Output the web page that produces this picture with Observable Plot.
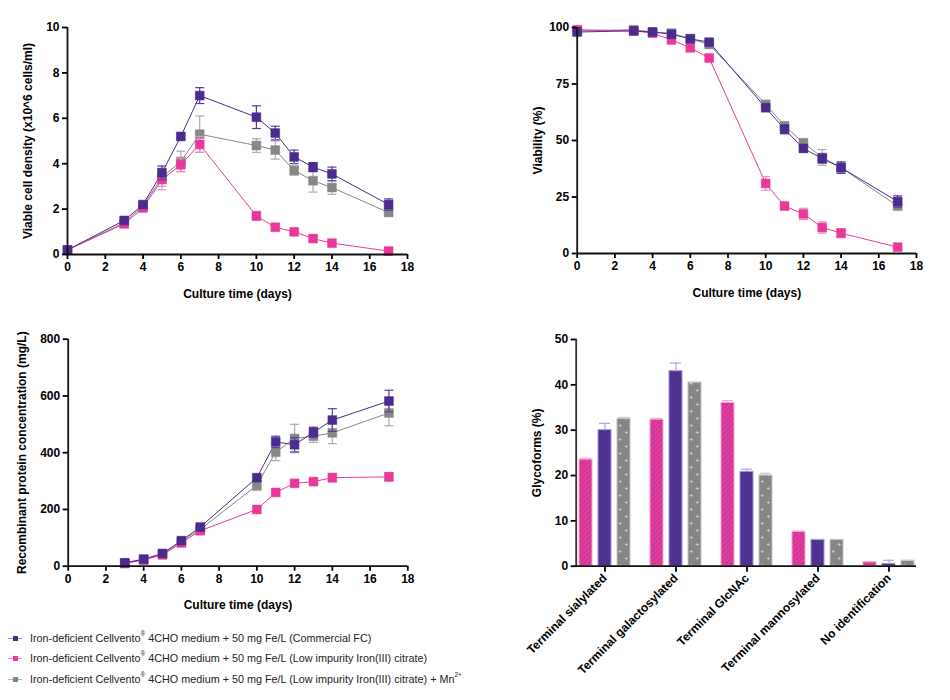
<!DOCTYPE html>
<html><head><meta charset="utf-8">
<script src="https://cdn.jsdelivr.net/npm/d3@7"></script>
<script src="https://cdn.jsdelivr.net/npm/@observablehq/plot@0.6"></script>
<style>
body{margin:0;background:#fff;font-family:"Liberation Sans",Arial,sans-serif;}
#wrap{position:relative;width:950px;height:700px;overflow:hidden;background:#fff}
#wrap svg{position:absolute;overflow:visible}
.row{position:absolute;left:0;white-space:nowrap;height:14px;line-height:14px;font-size:10.8px;color:#222}
.sw{position:absolute;left:8px;top:7px;width:14px;height:1px}
.sq{position:absolute;left:12.5px;top:4.5px;width:5px;height:5px}
.lt{position:absolute;left:30px;top:0}
sup{font-size:6.5px;vertical-align:top;line-height:8px;position:relative;top:-1px}
</style></head><body><div id="wrap"></div><script>
// ---------- data ----------
const seriesKeys = ["FC", "LI", "LIMn"];
const seriesLabels = [
  "Iron-deficient Cellvento® 4CHO medium + 50 mg Fe/L (Commercial FC)",
  "Iron-deficient Cellvento® 4CHO medium + 50 mg Fe/L (Low impurity Iron(III) citrate)",
  "Iron-deficient Cellvento® 4CHO medium + 50 mg Fe/L (Low impurity Iron(III) citrate) + Mn2+"
];
const seriesColors = {FC: "#4b2c8e", LI: "#e8399a", LIMn: "#878787"};
const errColors = {FC: "#5a40a0", LI: "#f08cc0", LIMn: "#ababab"};
const legendLineColors = {FC: "#9a8cc6", LI: "#f090c4", LIMn: "#b8b8b8"};

const days = [0, 3, 4, 5, 6, 7, 10, 11, 12, 13, 14, 17];
const vcdFC      = [0.2, 1.5, 2.2, 3.6, 5.2, 7.0, 6.05, 5.35, 4.3, 3.85, 3.55, 2.2];
const vcdFCErr   = [0.05, 0.1, 0.1, 0.3, 0.1, 0.35, 0.5, 0.3, 0.3, 0.2, 0.3, 0.25];
const vcdLI      = [0.2, 1.35, 2.05, 3.3, 3.95, 4.85, 1.7, 1.2, 1.0, 0.7, 0.5, 0.15];
const vcdLIErr   = [0.05, 0.08, 0.1, 0.45, 0.3, 0.35, 0.2, 0.1, 0.1, 0.15, 0.08, 0.1];
const vcdLIMn    = [0.2, 1.4, 2.15, 3.4, 4.1, 5.3, 4.8, 4.6, 3.7, 3.25, 2.95, 1.85];
const vcdLIMnErr = [0.05, 0.1, 0.1, 0.4, 0.45, 0.8, 0.3, 0.4, 0.2, 0.5, 0.3, 0.1];

const viabFC      = [98, 98.5, 98, 97, 95, 93.5, 64.5, 55, 46.5, 42, 38, 23];
const viabFCErr   = [0.5, 0.5, 0.5, 1, 1, 1, 1.5, 2, 1.5, 2, 2.5, 2.5];
const viabLI      = [99, 98.5, 97.5, 94.5, 91, 86.5, 31, 21, 17.5, 11.5, 9, 2.8];
const viabLIErr   = [0.5, 0.5, 0.5, 1, 1, 1, 3, 1.5, 2.5, 2.5, 2, 0.5];
const viabLIMn    = [98.5, 99, 98, 97.5, 95, 92.5, 66, 56.5, 49, 42.5, 38, 21];
const viabLIMnErr = [0.5, 0.5, 0.5, 1, 1, 1, 1.5, 1.5, 1.5, 3.5, 2.5, 1];

const protDays = [3, 4, 5, 6, 7, 10, 11, 12, 13, 14, 17];
const protFC      = [12, 25, 45, 90, 138, 312, 438, 428, 472, 515, 582];
const protFCErr   = [3, 3, 5, 5, 5, 10, 20, 25, 18, 40, 38];
const protLI      = [10, 22, 40, 82, 125, 200, 260, 292, 298, 312, 315];
const protLIErr   = [3, 3, 4, 5, 5, 8, 10, 8, 8, 15, 15];
const protLIMn    = [10, 23, 42, 88, 130, 285, 402, 450, 458, 470, 540];
const protLIMnErr = [3, 3, 5, 5, 5, 18, 30, 50, 22, 38, 45];

const glycoCategories = ["Terminal sialylated", "Terminal galactosylated", "Terminal GlcNAc", "Terminal mannosylated", "No identification"];
const glycoFC      = [30, 43, 20.8, 5.8, 0.5];
const glycoFCErr   = [1.5, 1.8, 0.6, 0.1, 0.8];
const glycoLI      = [23.5, 32.3, 36, 7.6, 0.9];
const glycoLIErr   = [0.3, 0.3, 0.5, 0.1, 0.1];
const glycoLIMn    = [32.5, 40.5, 20, 5.8, 1.2];
const glycoLIMnErr = [0.3, 0.1, 0.5, 0.1, 0.1];

const dayTicks = [0, 2, 4, 6, 8, 10, 12, 14, 16, 18];
const vcdTicks = [0, 2, 4, 6, 8, 10];
const viabTicks = [0, 25, 50, 75, 100];
const protTicks = [0, 200, 400, 600, 800];
const glycoTicks = [0, 10, 20, 30, 40, 50];

// ---------- helpers ----------
const wrap = document.getElementById("wrap");
const baseStyle = {fontFamily: "'Liberation Sans', Arial, sans-serif", fontSize: "12px", fontWeight: "bold", color: "#000", background: "transparent", overflow: "visible"};
const capSymbol = {draw(ctx, size) { const w = Math.sqrt(size / Math.PI); ctx.moveTo(-w, 0); ctx.lineTo(w, 0); }};

function seriesRows(xs, vals, errs) { return {x: xs, v: vals, e: errs}; }
function toRows(s, d) { return d.x.map((x, i) => ({x, v: d.v[i], e: d.e[i], s})); }

function linePanel({data, yDomain, yTicks, yLabel, left, top, width, height, mL, mR, mT, mB, yLabelOffset}) {
  const order = ["LIMn", "LI", "FC"];
  const marks = [];
  for (const s of order) {
    marks.push(Plot.line(toRows(s, data[s]), {x: "x", y: "v", stroke: seriesColors[s], strokeWidth: 1}));
  }
  for (const s of order) {
    const rows = toRows(s, data[s]).filter(d => d.e > 0);
    marks.push(Plot.ruleX(rows, {x: "x", y1: d => d.v - d.e, y2: d => d.v + d.e, stroke: errColors[s], strokeWidth: 1.2}));
    marks.push(Plot.dot(rows, {x: "x", y: d => d.v + d.e, symbol: capSymbol, r: 4.5, fill: "none", stroke: errColors[s], strokeWidth: 1.2}));
    marks.push(Plot.dot(rows, {x: "x", y: d => d.v - d.e, symbol: capSymbol, r: 4.5, fill: "none", stroke: errColors[s], strokeWidth: 1.2}));
    marks.push(Plot.dot(toRows(s, data[s]), {x: "x", y: "v", symbol: "square", r: 5, fill: seriesColors[s], stroke: seriesColors[s], strokeWidth: 0.5}));
  }
  marks.push(Plot.ruleX([0], {stroke: "#111", strokeWidth: 1.8}));
  marks.push(Plot.ruleY([0], {stroke: "#111", strokeWidth: 1.8}));
  marks.push(Plot.axisX({ticks: dayTicks, tickSize: 5, tickPadding: 3, strokeWidth: 1.8, label: "Culture time (days)", labelAnchor: "center", labelArrow: "none", labelOffset: 43}));
  marks.push(Plot.axisY({ticks: yTicks, tickSize: 5, tickPadding: 3, strokeWidth: 1.8, label: yLabel, labelAnchor: "center", labelArrow: "none", labelOffset: yLabelOffset}));
  const svg = Plot.plot({
    width, height, marginLeft: mL, marginRight: mR, marginTop: mT, marginBottom: mB,
    style: baseStyle,
    x: {domain: [0, 18]},
    y: {domain: yDomain},
    marks
  });
  svg.style.left = left + "px"; svg.style.top = top + "px";
  wrap.appendChild(svg);
}

// Panel A: viable cell density
linePanel({
  data: {FC: seriesRows(days, vcdFC, vcdFCErr), LI: seriesRows(days, vcdLI, vcdLIErr), LIMn: seriesRows(days, vcdLIMn, vcdLIMnErr)},
  yDomain: [0, 10], yTicks: vcdTicks, yLabel: "Viable cell density (x10^6 cells/ml)",
  left: 0, top: 0, width: 470, height: 310, mL: 67, mR: 63, mT: 27, mB: 56, yLabelOffset: 44
});
// Panel B: viability
linePanel({
  data: {FC: seriesRows(days, viabFC, viabFCErr), LI: seriesRows(days, viabLI, viabLIErr), LIMn: seriesRows(days, viabLIMn, viabLIMnErr)},
  yDomain: [0, 100], yTicks: viabTicks, yLabel: "Viability (%)",
  left: 475, top: 0, width: 475, height: 310, mL: 101.7, mR: 34, mT: 27, mB: 57, yLabelOffset: 44
});
// Panel C: recombinant protein
linePanel({
  data: {FC: seriesRows(protDays, protFC, protFCErr), LI: seriesRows(protDays, protLI, protLIErr), LIMn: seriesRows(protDays, protLIMn, protLIMnErr)},
  yDomain: [0, 800], yTicks: protTicks, yLabel: "Recombinant protein concentration (mg/L)",
  left: 0, top: 310, width: 470, height: 300, mL: 67.7, mR: 62.7, mT: 28.7, mB: 44.3, yLabelOffset: 51
});

// Panel D: glycoforms bar chart
(function () {
  const glyco = {FC: [glycoFC, glycoFCErr], LI: [glycoLI, glycoLIErr], LIMn: [glycoLIMn, glycoLIMnErr]};
  const fills = {LI: "url(#hatchPink)", FC: "#4f3191", LIMn: "url(#plusGray)"};
  const borders = {LI: "#f3a6cf", FC: "#a291d2", LIMn: "#c4c4c4"};
  const errC = {LI: "#f4a8d0", FC: "#b3a5dc", LIMn: "#c8c8c8"};
  const barInsets = {LI: [10, 48], FC: [29, 29], LIMn: [48, 10]};
  const capInsets = {LI: [11, 49], FC: [30, 30], LIMn: [49, 11]};
  const shift = {LI: -19, FC: 0, LIMn: 19};
  const marks = [];
  for (const s of ["LI", "FC", "LIMn"]) {
    const rows = glycoCategories.map((c, i) => ({c, v: glyco[s][0][i], e: glyco[s][1][i]}));
    marks.push(Plot.barY(rows, {x: "c", y: "v", fill: fills[s], stroke: borders[s], strokeWidth: 1, insetLeft: barInsets[s][0], insetRight: barInsets[s][1]}));
    marks.push(Plot.ruleX(rows, {x: "c", y1: "v", y2: d => d.v + d.e, stroke: errC[s], strokeWidth: 1.2, dx: shift[s]}));
    marks.push(Plot.tickY(rows, {x: "c", y: d => d.v + d.e, stroke: errC[s], strokeWidth: 1.2, insetLeft: capInsets[s][0], insetRight: capInsets[s][1]}));
  }
  marks.push(Plot.frame({anchor: "left", stroke: "#333", strokeWidth: 1.8}));
  marks.push(Plot.ruleY([0], {stroke: "#111", strokeWidth: 1.8}));
  marks.push(Plot.axisX({tickSize: 6, tickPadding: 4, strokeWidth: 1.8, tickRotate: -45, label: null}));
  marks.push(Plot.axisY({ticks: glycoTicks, tickSize: 5, tickPadding: 3, strokeWidth: 1.8, label: "Glycoforms (%)", labelAnchor: "center", labelArrow: "none", labelOffset: 44}));
  const svg = Plot.plot({
    width: 475, height: 390, marginLeft: 100.7, marginRight: 34, marginTop: 29, marginBottom: 134.3,
    style: baseStyle,
    x: {domain: glycoCategories, padding: 0, insetLeft: -6.7, insetRight: -8},
    y: {domain: [0, 50]},
    marks
  });
  const defs = d3.select(svg).insert("defs", ":first-child");
  const h = defs.append("pattern").attr("id", "hatchPink").attr("patternUnits", "userSpaceOnUse")
    .attr("width", 3.6).attr("height", 3.6).attr("patternTransform", "rotate(45)");
  h.append("rect").attr("width", 3.6).attr("height", 3.6).attr("fill", "#e8399a");
  h.append("line").attr("x1", 0.5).attr("y1", 0).attr("x2", 0.5).attr("y2", 3.6).attr("stroke", "#9c3a9a").attr("stroke-width", 0.7);
  const pw = 71 / 6;
  const p = defs.append("pattern").attr("id", "plusGray").attr("patternUnits", "userSpaceOnUse")
    .attr("width", pw).attr("height", 14);
  p.append("rect").attr("width", pw).attr("height", 14).attr("fill", "#858585");
  for (const [cx, cy] of [[3.2, 3.5], [9.3, 10.5]]) {
    p.append("path").attr("d", `M${cx - 1.6},${cy}H${cx + 1.6}M${cx},${cy - 1.6}V${cy + 1.6}`)
      .attr("stroke", "#d6d6d6").attr("stroke-width", 0.7);
  }
  svg.style.left = "475px"; svg.style.top = "310px";
  wrap.appendChild(svg);
})();

// ---------- legend ----------
const legendTops = [631, 651, 672];
seriesKeys.forEach((s, i) => {
  const row = document.createElement("div");
  row.className = "row";
  row.style.top = legendTops[i] + "px";
  const html = seriesLabels[i].replace("®", "<sup>®</sup>").replace("Mn2+", "Mn<sup>2+</sup>");
  row.innerHTML = `<span class="sw" style="background:${legendLineColors[s]}"></span><span class="sq" style="background:${seriesColors[s]}"></span><span class="lt">${html}</span>`;
  wrap.appendChild(row);
});
</script></body></html>
